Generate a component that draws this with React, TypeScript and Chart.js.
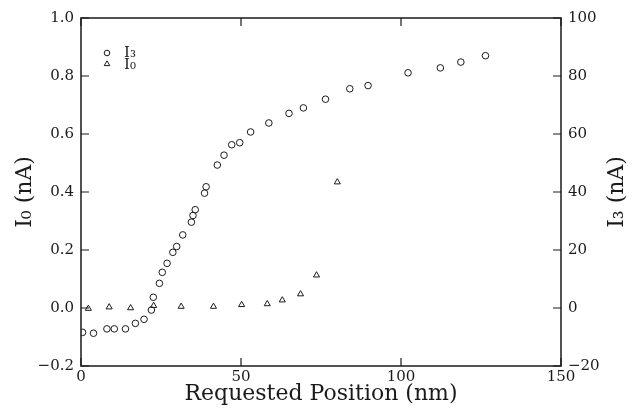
import React, { useEffect, useRef } from 'react';
import { Chart, registerables } from 'chart.js';

Chart.register(...registerables);

// I3 (circles, right axis, nA)
const i3Pos = [0.5, 3.9, 8.1, 10.4, 13.9, 17.0, 19.7, 22.0, 22.6, 24.5, 25.4, 26.9, 28.7, 29.9, 31.8, 34.5, 35.0, 35.7, 38.6, 39.1, 42.6, 44.7, 47.1, 49.6, 53.0, 58.7, 65.0, 69.5, 76.4, 84.0, 89.7, 102.2, 112.3, 118.7, 126.4];
const i3Val = [-8.4, -8.7, -7.2, -7.2, -7.2, -5.3, -3.9, -0.7, 3.7, 8.5, 12.3, 15.4, 19.2, 21.2, 25.2, 29.6, 31.9, 33.9, 39.6, 41.8, 49.3, 52.7, 56.3, 57.0, 60.7, 63.8, 67.1, 69.0, 72.0, 75.6, 76.7, 81.1, 82.8, 84.8, 87.0];

// I0 (triangles, left axis, nA)
const i0Pos = [2.3, 8.8, 15.5, 22.7, 31.3, 41.4, 50.2, 58.2, 62.9, 68.6, 73.6, 80.1];
const i0Val = [-0.002, 0.003, 0.0, 0.008, 0.005, 0.005, 0.011, 0.014, 0.027, 0.048, 0.113, 0.434];

const xRange = [0, 150];
const xStep = 50;
const leftRange = [-0.2, 1.0];
const leftStep = 0.2;
const rightRange = [-20, 100];
const rightStep = 20;

const xTitle = 'Requested Position (nm)';
const leftTitle = 'I\u2080 (nA)';
const rightTitle = 'I\u2083 (nA)';
const legendLabels = ['I\u2083', 'I\u2080'];

const INK = '#1a1a1a';
const SERIF = '"DejaVu Serif", "Liberation Serif", serif';

const minus = (s: string) => s.replace('-', '\u2212');

const framePlugin = {
  id: 'frameTicks',
  afterDraw(chart: any) {
    const { ctx, chartArea: a, scales } = chart;
    ctx.save();
    ctx.strokeStyle = INK;
    ctx.lineWidth = 1.5;
    ctx.strokeRect(a.left, a.top, a.right - a.left, a.bottom - a.top);
    ctx.lineWidth = 1.2;
    const L = 8;
    ctx.beginPath();
    for (const t of scales.x.ticks) {
      const px = scales.x.getPixelForValue(t.value);
      ctx.moveTo(px, a.bottom);
      ctx.lineTo(px, a.bottom - L);
      ctx.moveTo(px, a.top);
      ctx.lineTo(px, a.top + L);
    }
    for (const t of scales.y.ticks) {
      const py = scales.y.getPixelForValue(t.value);
      ctx.moveTo(a.left, py);
      ctx.lineTo(a.left + L, py);
    }
    for (const t of scales.y3.ticks) {
      const py = scales.y3.getPixelForValue(t.value);
      ctx.moveTo(a.right, py);
      ctx.lineTo(a.right - L, py);
    }
    ctx.stroke();

    // axis titles
    ctx.fillStyle = INK;
    ctx.font = `22px ${SERIF}`;
    ctx.textAlign = 'center';
    ctx.textBaseline = 'middle';
    const cx = (a.left + a.right) / 2;
    const cy = (a.top + a.bottom) / 2;
    ctx.fillText(xTitle, cx, 394);
    ctx.save();
    ctx.translate(25, cy);
    ctx.rotate(-Math.PI / 2);
    ctx.fillText(leftTitle, 0, 0);
    ctx.restore();
    ctx.save();
    ctx.translate(617, cy);
    ctx.rotate(-Math.PI / 2);
    ctx.fillText(rightTitle, 0, 0);
    ctx.restore();

    // legend
    const lx = a.left + 26;
    const ly = [a.top + 35, a.top + 46];
    ctx.lineWidth = 1;
    ctx.strokeStyle = INK;
    ctx.beginPath();
    ctx.arc(lx, ly[0], 2.8, 0, Math.PI * 2);
    ctx.stroke();
    const r = 3.2;
    ctx.beginPath();
    for (let k = 0; k < 3; k++) {
      const ang = (k * 2 * Math.PI) / 3;
      const px = lx + Math.sin(ang) * r;
      const py = ly[1] - Math.cos(ang) * r;
      if (k === 0) ctx.moveTo(px, py);
      else ctx.lineTo(px, py);
    }
    ctx.closePath();
    ctx.stroke();
    ctx.font = `15px ${SERIF}`;
    ctx.textAlign = 'left';
    ctx.fillText(legendLabels[0], lx + 17, ly[0]);
    ctx.fillText(legendLabels[1], lx + 17, ly[1] + 1);
    ctx.restore();
  },
};

export default function App() {
  const ref = useRef<HTMLCanvasElement | null>(null);
  useEffect(() => {
    if (!ref.current) return;
    const chart = new Chart(ref.current, {
      type: 'scatter',
      data: {
        datasets: [
          {
            label: legendLabels[0],
            data: i3Pos.map((x, i) => ({ x, y: i3Val[i] })),
            yAxisID: 'y3',
            pointStyle: 'circle',
            pointRadius: 3.3,
            pointBorderWidth: 1,
            borderColor: INK,
            backgroundColor: 'rgba(0,0,0,0)',
            showLine: false,
          },
          {
            label: legendLabels[1],
            data: i0Pos.map((x, i) => ({ x, y: i0Val[i] })),
            yAxisID: 'y',
            pointStyle: 'triangle',
            pointRadius: 3.5,
            pointBorderWidth: 1,
            borderColor: INK,
            backgroundColor: 'rgba(0,0,0,0)',
            showLine: false,
          },
        ],
      },
      options: {
        responsive: false,
        animation: false,
        devicePixelRatio: 1,
        layout: { padding: { top: 18, left: 0, right: 0, bottom: 0 } },
        plugins: { legend: { display: false }, tooltip: { enabled: false } },
        scales: {
          x: {
            type: 'linear',
            min: xRange[0],
            max: xRange[1],
            ticks: {
              stepSize: xStep,
              padding: 2,
              color: INK,
              font: { family: SERIF, size: 15 },
              maxRotation: 0,
              callback: (v: any) => String(Math.round(v)),
            },
            grid: { display: false, drawTicks: false },
            border: { display: false },
            afterFit: (s: any) => { s.height = 44; },
          },
          y: {
            type: 'linear',
            position: 'left',
            min: leftRange[0],
            max: leftRange[1],
            ticks: {
              stepSize: leftStep,
              padding: 7,
              color: INK,
              font: { family: SERIF, size: 15 },
              callback: (v: any) => {
                const n = Math.abs(v) < 1e-9 ? 0 : v;
                return minus(n.toFixed(1));
              },
            },
            grid: { display: false, drawTicks: false },
            border: { display: false },
            afterFit: (s: any) => { s.width = 81; },
          },
          y3: {
            type: 'linear',
            position: 'right',
            min: rightRange[0],
            max: rightRange[1],
            ticks: {
              stepSize: rightStep,
              padding: 7,
              color: INK,
              font: { family: SERIF, size: 15 },
              callback: (v: any) => minus(String(Math.round(v))),
            },
            grid: { display: false, drawTicks: false },
            border: { display: false },
            afterFit: (s: any) => { s.width = 73; },
          },
        },
      },
      plugins: [framePlugin],
    } as any);
    return () => chart.destroy();
  }, []);
  return (
    <div style={{ position: 'absolute', left: 0, top: 0, width: 634, height: 410, background: '#fff' }}>
      <canvas ref={ref} width={634} height={410} style={{ display: 'block' }} />
    </div>
  );
}
